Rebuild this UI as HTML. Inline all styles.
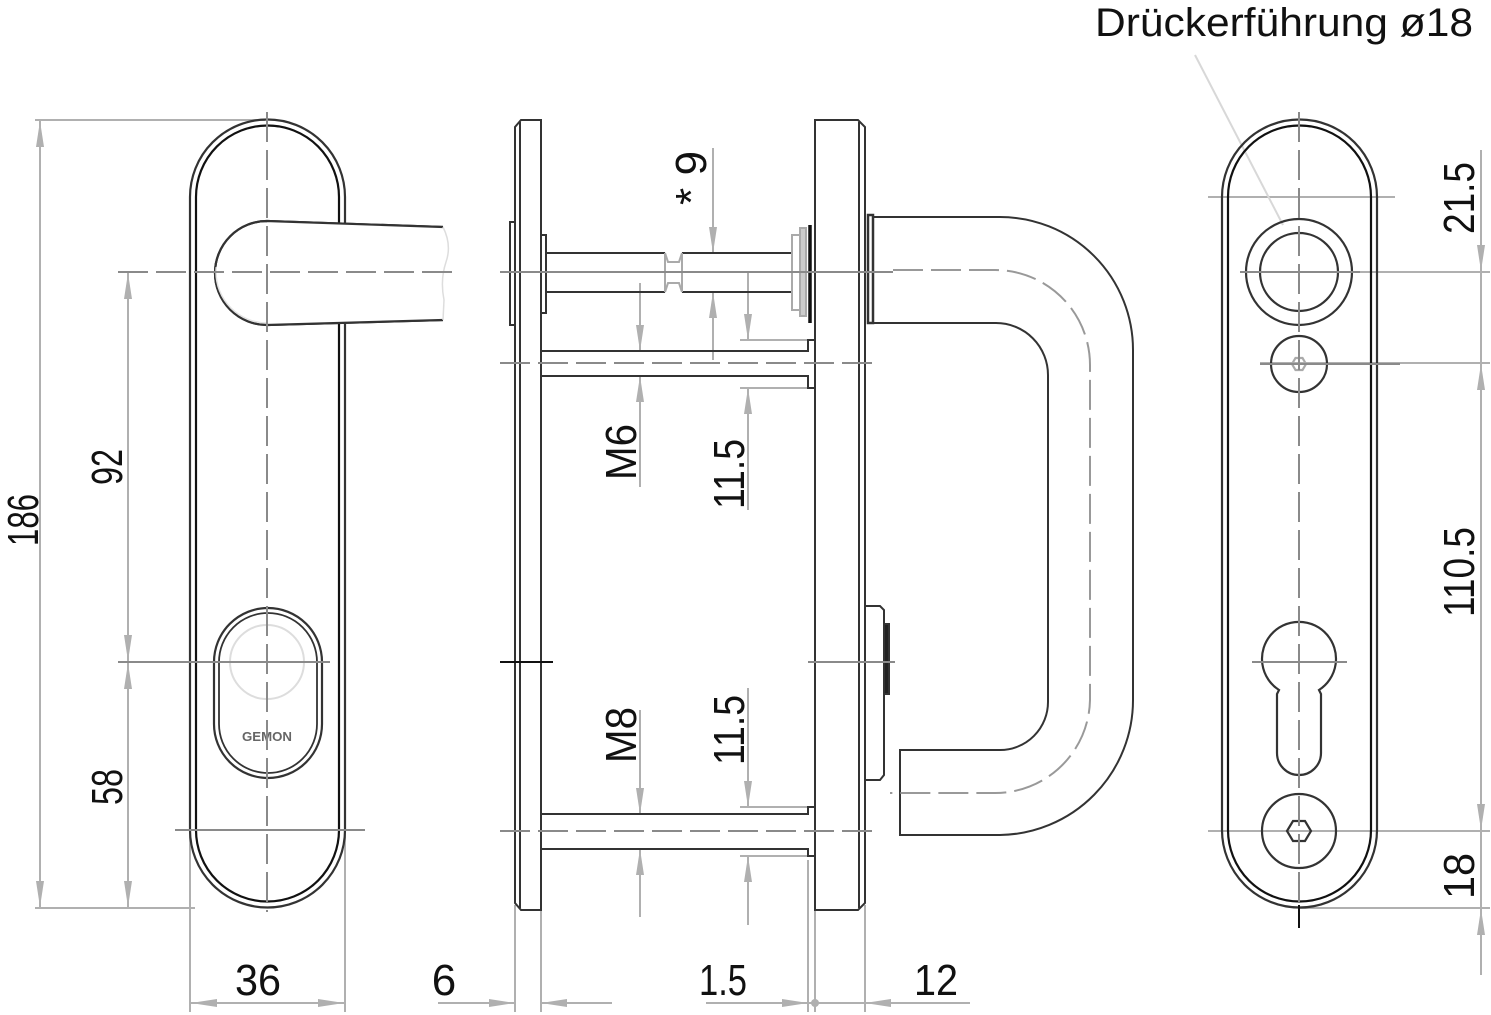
<!DOCTYPE html>
<html><head><meta charset="utf-8"><style>html,body{margin:0;padding:0;background:#fff}svg{display:block}text{font-family:"Liberation Sans",sans-serif;fill:#111}</style></head><body>
<svg width="1491" height="1015" viewBox="0 0 1491 1015" xmlns="http://www.w3.org/2000/svg">
<defs>
<marker id="a" markerWidth="26" markerHeight="10" refX="26" refY="5" orient="auto" markerUnits="userSpaceOnUse"><path d="M0,1 L26,5 L0,9 Z" fill="#b0b0b0"/></marker>
</defs>
<g fill="none" stroke="#b0b0b0" stroke-width="2">
<!-- left view dims -->
<line x1="35" y1="120" x2="265" y2="120"/><line x1="35" y1="908" x2="195" y2="908"/>
<line x1="40" y1="520" x2="40" y2="121" marker-end="url(#a)"/><line x1="40" y1="520" x2="40" y2="907" marker-end="url(#a)"/>
<line x1="128" y1="467" x2="128" y2="273" marker-end="url(#a)"/><line x1="128" y1="467" x2="128" y2="661" marker-end="url(#a)"/>
<line x1="128" y1="787" x2="128" y2="663" marker-end="url(#a)"/><line x1="128" y1="787" x2="128" y2="907" marker-end="url(#a)"/>
<line x1="190" y1="830" x2="190" y2="1012"/><line x1="345" y1="830" x2="345" y2="1012"/>
<line x1="267" y1="1003" x2="191" y2="1003" marker-end="url(#a)"/><line x1="267" y1="1003" x2="344" y2="1003" marker-end="url(#a)"/>
<!-- middle dims -->
<line x1="515" y1="905" x2="515" y2="1012"/><line x1="541" y1="905" x2="541" y2="1012"/>
<line x1="808" y1="860" x2="808" y2="1012"/><line x1="815" y1="905" x2="815" y2="1012"/><line x1="865" y1="905" x2="865" y2="1012"/>
<line x1="438" y1="1003" x2="515" y2="1003" marker-end="url(#a)"/><line x1="612" y1="1003" x2="541" y2="1003" marker-end="url(#a)"/>
<line x1="706" y1="1003" x2="808" y2="1003" marker-end="url(#a)"/><line x1="808" y1="1003" x2="865" y2="1003"/><line x1="970" y1="1003" x2="865" y2="1003" marker-end="url(#a)"/>
<line x1="713" y1="148" x2="713" y2="253" marker-end="url(#a)"/><line x1="713" y1="360" x2="713" y2="292" marker-end="url(#a)"/>
<line x1="640" y1="283" x2="640" y2="351" marker-end="url(#a)"/><line x1="640" y1="487" x2="640" y2="376" marker-end="url(#a)"/>
<line x1="748" y1="272" x2="748" y2="340" marker-end="url(#a)"/><line x1="748" y1="510" x2="748" y2="388" marker-end="url(#a)"/>
<line x1="740" y1="340" x2="808" y2="340"/><line x1="740" y1="388" x2="808" y2="388"/>
<line x1="640" y1="710" x2="640" y2="814" marker-end="url(#a)"/><line x1="640" y1="917" x2="640" y2="849" marker-end="url(#a)"/>
<line x1="748" y1="688" x2="748" y2="807" marker-end="url(#a)"/><line x1="748" y1="925" x2="748" y2="856" marker-end="url(#a)"/>
<line x1="740" y1="807" x2="808" y2="807"/><line x1="740" y1="856" x2="808" y2="856"/>
<!-- right dims -->
<line x1="1208" y1="197" x2="1395" y2="197"/><line x1="1240" y1="272" x2="1490" y2="272"/><line x1="1260" y1="363" x2="1490" y2="363"/>
<line x1="1208" y1="831" x2="1490" y2="831"/><line x1="1299" y1="908" x2="1490" y2="908"/>
<line x1="1481" y1="150" x2="1481" y2="271" marker-end="url(#a)"/><line x1="1481" y1="272" x2="1481" y2="363"/>
<line x1="1481" y1="420" x2="1481" y2="364" marker-end="url(#a)"/><line x1="1481" y1="600" x2="1481" y2="830" marker-end="url(#a)"/>
<line x1="1481" y1="420" x2="1481" y2="600"/><line x1="1481" y1="831" x2="1481" y2="908"/>
<line x1="1481" y1="975" x2="1481" y2="909" marker-end="url(#a)"/>
<line x1="1195" y1="55" x2="1283" y2="225" stroke="#d8d8d8"/>
</g>
<circle cx="815" cy="1003" r="4" fill="#b0b0b0"/>

<!-- LEFT VIEW -->
<g fill="none" stroke="#333" stroke-width="2.2">
<path d="M190,197 A77.5,77.5 0 0 1 345,197 L345,830 A77.5,77.5 0 0 1 190,830 Z"/>
<path d="M196,197 A71.5,71.5 0 0 1 339,197 L339,830 A71.5,71.5 0 0 1 196,830 Z" stroke="#111"/>
<circle cx="267" cy="272" r="51" stroke="#ddd" stroke-width="1.5"/>
<path d="M267,221 L443,227 M443,320 L267,325 A52,52 0 0 1 267,221" fill="#fff"/>
<path d="M267,221 L443,227 L443,320 L267,325 Z" fill="#fff" stroke="none"/>
<path d="M267,221 L443,227 M443,320 L267,325 A52,52 0 0 1 267,221"/>
<path d="M443,227 Q452,245 446,262 Q440,280 444,300 L443,320" stroke="#ddd" stroke-width="1.5"/>
<circle cx="267" cy="272" r="51" stroke="#e3e3e3" stroke-width="1.5" stroke-dasharray="0 80 85 200"/>
<path d="M214,662 A54,54 0 0 1 322,662 L322,724 A54,54 0 0 1 214,724 Z"/>
<path d="M219,662 A49,49 0 0 1 317,662 L317,724 A49,49 0 0 1 219,724 Z" stroke-width="1.8"/>
<circle cx="267" cy="662" r="37" stroke="#ddd" stroke-width="2"/>
</g>
<text x="267" y="741" font-size="13" font-weight="bold" text-anchor="middle" style="fill:#666" textLength="50" lengthAdjust="spacingAndGlyphs">GEMON</text>
<g stroke="#8a8a8a" stroke-width="2" stroke-dasharray="30 8">
<line x1="267" y1="112" x2="267" y2="912"/>
<line x1="118" y1="272" x2="460" y2="272"/>
</g>
<g stroke="#8a8a8a" stroke-width="2">
<line x1="118" y1="662" x2="330" y2="662"/><line x1="175" y1="830" x2="365" y2="830"/>
</g>

<!-- MIDDLE VIEW -->
<g fill="none" stroke="#333" stroke-width="2">
<path d="M521,120 L541,120 L541,910 L521,910 L515,903 L515,127 Z"/><line x1="520" y1="122" x2="520" y2="908"/>
<path d="M815,120 L858,120 L865,127 L865,903 L858,910 L815,910 Z"/><line x1="859" y1="122" x2="859" y2="908"/>
<rect x="510" y="222" width="5" height="103"/><rect x="541" y="235" width="5" height="78"/>
<path d="M546,253 L665,253 M546,292 L665,292 M682,253 L792,253 M682,292 L792,292"/>
<path d="M665,253 L668,262 L679,262 L682,253 M665,292 L668,283 L679,283 L682,292 M665,253 L665,292 M682,253 L682,292" stroke="#aaa"/>
<rect x="792" y="235" width="8" height="75" stroke="#aaa"/><rect x="800" y="228" width="6" height="88" stroke="#aaa" fill="#ccc"/>
<line x1="810" y1="225" x2="810" y2="323" stroke="#111" stroke-width="3.5"/>
<path d="M541,351 L808,351 L808,340 L815,340 M541,376 L808,376 L808,388 L815,388"/>
<path d="M541,814 L808,814 L808,807 L815,807 M541,849 L808,849 L808,856 L815,856"/>
<rect x="868" y="215" width="5" height="108" stroke-width="2.5"/>
<path d="M865,606 L880,606 L884,610 L884,775 L880,780 L865,780"/>
<rect x="884" y="624" width="5" height="70" fill="#222"/>
<!-- handle -->
<path d="M873,217 L1000,217 A133,133 0 0 1 1133,350 L1133,700 A135,135 0 0 1 1000,835 L900,835 L900,750 L1000,750 A48,48 0 0 0 1048,702 L1048,375 A52,52 0 0 0 996,323 L873,323"/>
</g>
<line x1="500" y1="662" x2="553" y2="662" stroke="#111" stroke-width="2"/>
<g stroke="#8a8a8a" stroke-width="2" fill="none">
<line x1="500" y1="272" x2="893" y2="272"/>
<line x1="500" y1="363" x2="878" y2="363" stroke-dasharray="30 8"/>
<line x1="500" y1="831" x2="880" y2="831" stroke-dasharray="30 8"/>
<line x1="808" y1="662" x2="895" y2="662"/>
<path d="M893,270 L995,270 A95,95 0 0 1 1090,365 L1090,700 A95,95 0 0 1 995,793 L890,793" stroke="#999" stroke-dasharray="30 8"/>
</g>

<!-- RIGHT VIEW -->
<g fill="none" stroke="#333" stroke-width="2.2">
<path d="M1222,197 A77.5,77.5 0 0 1 1377,197 L1377,830 A77.5,77.5 0 0 1 1222,830 Z"/>
<path d="M1228,197 A71.5,71.5 0 0 1 1371,197 L1371,830 A71.5,71.5 0 0 1 1228,830 Z" stroke="#111"/>
<circle cx="1299" cy="272" r="53"/><circle cx="1299" cy="272" r="39"/>
<circle cx="1299" cy="364" r="28"/>
<path d="M1292,364 L1295.5,358 L1302.5,358 L1306,364 L1302.5,370 L1295.5,370 Z" stroke="#aaa"/>
<path d="M1279,690 A37,37 0 1 1 1319,690 L1321,694 L1321,753 A22,22 0 0 1 1277,753 L1277,694 Z"/>
<circle cx="1299" cy="831" r="37"/>
<path d="M1287,831 L1293,821 L1305,821 L1311,831 L1305,841 L1293,841 Z"/>
</g>
<g stroke="#8a8a8a" stroke-width="2">
<line x1="1299" y1="112" x2="1299" y2="925" stroke-dasharray="30 8"/>
<line x1="1240" y1="272" x2="1360" y2="272"/><line x1="1260" y1="364" x2="1400" y2="364"/>
<line x1="1252" y1="662" x2="1347" y2="662"/>
</g>
<line x1="1299" y1="905" x2="1299" y2="928" stroke="#111" stroke-width="2"/>

<!-- TEXT -->
<g font-size="44">
<text transform="translate(38,520) rotate(-90)" text-anchor="middle" textLength="52" lengthAdjust="spacingAndGlyphs">186</text>
<text transform="translate(122,467) rotate(-90)" text-anchor="middle" textLength="36" lengthAdjust="spacingAndGlyphs">92</text>
<text transform="translate(122,787) rotate(-90)" text-anchor="middle" textLength="36" lengthAdjust="spacingAndGlyphs">58</text>
<text x="258" y="995" text-anchor="middle" textLength="46" lengthAdjust="spacingAndGlyphs">36</text>
<text x="444" y="995" text-anchor="middle">6</text>
<text x="723" y="995" text-anchor="middle" textLength="48" lengthAdjust="spacingAndGlyphs">1.5</text>
<text x="936" y="995" text-anchor="middle" textLength="44" lengthAdjust="spacingAndGlyphs">12</text>
<text transform="translate(706,178) rotate(-90)" text-anchor="middle" textLength="54" lengthAdjust="spacingAndGlyphs">* 9</text>
<text transform="translate(636,452) rotate(-90)" text-anchor="middle" textLength="56" lengthAdjust="spacingAndGlyphs">M6</text>
<text transform="translate(744,474) rotate(-90)" text-anchor="middle" textLength="70" lengthAdjust="spacingAndGlyphs">11.5</text>
<text transform="translate(636,735) rotate(-90)" text-anchor="middle" textLength="56" lengthAdjust="spacingAndGlyphs">M8</text>
<text transform="translate(744,730) rotate(-90)" text-anchor="middle" textLength="70" lengthAdjust="spacingAndGlyphs">11.5</text>
<text transform="translate(1474,198) rotate(-90)" text-anchor="middle" textLength="72" lengthAdjust="spacingAndGlyphs">21.5</text>
<text transform="translate(1474,572) rotate(-90)" text-anchor="middle" textLength="90" lengthAdjust="spacingAndGlyphs">110.5</text>
<text transform="translate(1474,876) rotate(-90)" text-anchor="middle" textLength="46" lengthAdjust="spacingAndGlyphs">18</text>
<text x="1095" y="36" font-size="40" textLength="378" lengthAdjust="spacingAndGlyphs">Drückerführung ø18</text>
</g>
</svg>
</body></html>
